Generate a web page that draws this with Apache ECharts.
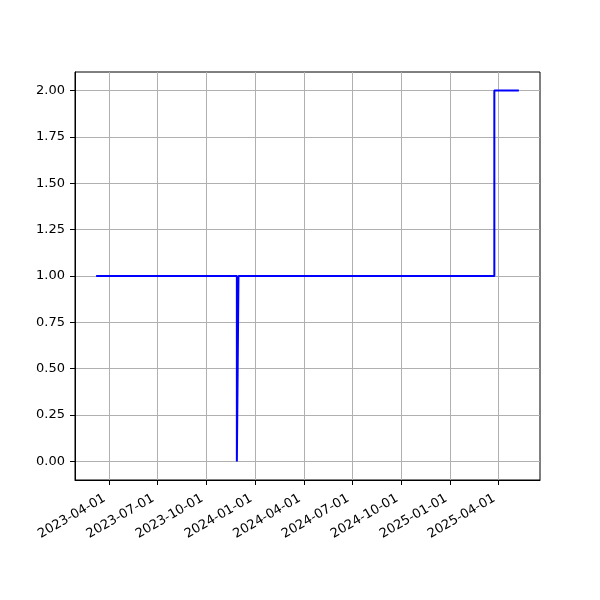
<!DOCTYPE html>
<html>
<head>
<meta charset="utf-8">
<script src="https://cdn.jsdelivr.net/npm/echarts@6/dist/echarts.min.js"></script>
<style>
html,body{margin:0;padding:0;background:#fff;}
#chart{width:600px;height:600px;}
</style>
</head>
<body>
<div id="chart"></div>
<script>
// Data
const dates = ['2023-03-08', '2023-11-27', '2023-11-30', '2025-03-24', '2025-05-09'];
const values = [1, 0, 1, 2, 2];
const xTickLabels = ['2023-04-01', '2023-07-01', '2023-10-01', '2024-01-01', '2024-04-01', '2024-07-01', '2024-10-01', '2025-01-01', '2025-04-01'];
const yTicks = [0, 0.25, 0.5, 0.75, 1.0, 1.25, 1.5, 1.75, 2.0];

function ts(s) { return Date.parse(s + 'T00:00:00Z'); }
function fmtDate(v) {
  const d = new Date(v);
  const p = n => (n < 10 ? '0' : '') + n;
  return d.getUTCFullYear() + '-' + p(d.getUTCMonth() + 1) + '-' + p(d.getUTCDate());
}

const xs = dates.map(ts);
const xMinD = Math.min(...xs), xMaxD = Math.max(...xs);
const xPad = (xMaxD - xMinD) * 0.05;
const yMinD = Math.min(...values), yMaxD = Math.max(...values);
const yPad = (yMaxD - yMinD) * 0.05;
const xTickVals = xTickLabels.map(ts);

const chart = echarts.init(document.getElementById('chart'));
const font = 'DejaVu Sans';
chart.setOption({
  animation: false,
  backgroundColor: '#ffffff',
  textStyle: { fontFamily: font },
  grid: { left: 75, right: 60, top: 72, bottom: 120, show: true, borderColor: '#000', borderWidth: 1, backgroundColor: 'transparent' },
  xAxis: {
    type: 'value',
    min: xMinD - xPad,
    max: xMaxD + xPad,
    axisLine: { show: true, onZero: false, lineStyle: { color: '#000', width: 1 } },
    axisTick: { show: true, length: 5, lineStyle: { color: '#000', width: 1 }, customValues: xTickVals },
    axisLabel: {
      customValues: xTickVals,
      formatter: v => fmtDate(v),
      rotate: 30,
      color: '#000',
      fontFamily: font,
      fontSize: 13,
      margin: 15,
      padding: [0, 5, 0, 0],
      hideOverlap: false
    },
    splitLine: { show: true, lineStyle: { color: '#b0b0b0', width: 1 } }
  },
  yAxis: {
    type: 'value',
    min: yMinD - yPad,
    max: yMaxD + yPad,
    axisLine: { show: true, onZero: false, lineStyle: { color: '#000', width: 1 } },
    axisTick: { show: true, length: 5, lineStyle: { color: '#000', width: 1 }, customValues: yTicks },
    axisLabel: {
      customValues: yTicks,
      formatter: v => Number(v).toFixed(2),
      color: '#000',
      fontFamily: font,
      fontSize: 13,
      margin: 10
    },
    splitLine: { show: true, lineStyle: { color: '#b0b0b0', width: 1 } }
  },
  series: [{
    type: 'line',
    step: 'end',
    data: xs.map((x, i) => [x, values[i]]),
    showSymbol: false,
    symbol: 'none',
    lineStyle: { color: '#0000ff', width: 2 },
    z: 5
  }]
});
</script>
</body>
</html>
